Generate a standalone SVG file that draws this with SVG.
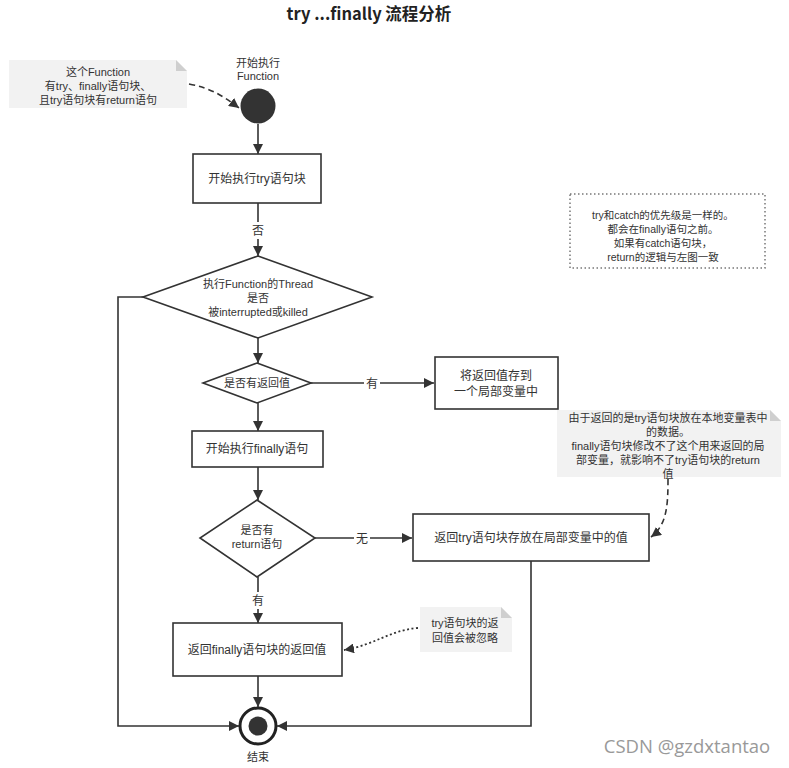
<svg xmlns="http://www.w3.org/2000/svg" width="789" height="768" viewBox="0 0 789 768">
<defs>
<style>
text{font-family:"Liberation Sans","Noto Sans CJK SC",sans-serif;fill:#333;text-anchor:middle}
.t12{font-size:12px}
.t11{font-size:11px}
.t10{font-size:10.5px}
.box{fill:#fff;stroke:#333;stroke-width:1.6}
.ln{fill:none;stroke:#333;stroke-width:1.6}
.dash{fill:none;stroke:#333;stroke-width:1.6;stroke-dasharray:6 4}
.dot{fill:none;stroke:#333;stroke-width:1.8;stroke-dasharray:2 2.5}
.note{fill:#f2f2f2}
.fold{fill:#cfcfcf}
.lbl{fill:#fff}
</style>
<marker id="ah" viewBox="0 0 10 10" refX="10" refY="5" markerWidth="10" markerHeight="10" markerUnits="userSpaceOnUse" orient="auto">
<path d="M0,0 L10,5 L0,10 z" fill="#333"/>
</marker>
</defs>
<rect width="789" height="768" fill="#fff"/>
<text x="369" y="20" style="font-family:'Noto Sans CJK SC',sans-serif;font-size:16.5px;font-weight:bold;fill:#222">try ...finally 流程分析</text>

<g id="connectors">
<path class="ln" d="M258,124 L258,154" marker-end="url(#ah)"/>
<path class="ln" d="M258,203 L258,256" marker-end="url(#ah)"/>
<path class="ln" d="M258,338 L258,363" marker-end="url(#ah)"/>
<path class="ln" d="M143,297 L118,297 L118,726 L239,726" marker-end="url(#ah)"/>
<path class="ln" d="M311,383 L434,383" marker-end="url(#ah)"/>
<path class="ln" d="M258,403 L258,431" marker-end="url(#ah)"/>
<path class="ln" d="M258,467 L258,500" marker-end="url(#ah)"/>
<path class="ln" d="M315,538 L412,538" marker-end="url(#ah)"/>
<path class="ln" d="M258,577 L258,623" marker-end="url(#ah)"/>
<path class="ln" d="M258,676 L258,707" marker-end="url(#ah)"/>
<path class="ln" d="M531,561 L531,726 L277,726" marker-end="url(#ah)"/>
<path class="dash" d="M189,84 C210,88 222,95 239,108" marker-end="url(#ah)"/>
<path class="dash" d="M668,479 C668,505 667,525 651,537" marker-end="url(#ah)"/>
<path class="dot" d="M418,628 C390,630 375,645 344,650" marker-end="url(#ah)"/>
<rect class="lbl" x="250" y="222" width="16" height="17"/>
<text class="t12" x="258" y="235">否</text>
<rect class="lbl" x="364" y="375" width="16" height="17"/>
<text class="t12" x="372" y="388">有</text>
<rect class="lbl" x="354" y="530" width="16" height="17"/>
<text class="t12" x="362" y="543">无</text>
<rect class="lbl" x="250" y="592" width="16" height="17"/>
<text class="t12" x="258" y="605">有</text>
</g>

<g id="note-function">
<path class="note" d="M9,60 L176,60 L187,71 L187,108 L9,108 z"/>
<path class="fold" d="M176,60 L187,71 L176,71 z"/>
<text class="t11" x="98" y="76">这个Function</text>
<text class="t11" x="98" y="90">有try、finally语句块、</text>
<text class="t11" x="98" y="104">且try语句块有return语句</text>
</g>

<g id="start">
<text class="t11" x="258" y="67">开始执行</text>
<text class="t11" x="258" y="80">Function</text>
<circle cx="258" cy="106" r="17.5" fill="#333"/>
</g>

<g id="try-block">
<rect class="box" x="193" y="154" width="128" height="49"/>
<text class="t12" x="257" y="183">开始执行try语句块</text>
</g>

<g id="thread-check">
<path class="box" d="M258,256 L372,297 L258,338 L143,297 z"/>
<text class="t11" x="258" y="288">执行Function的Thread</text>
<text class="t11" x="258" y="302">是否</text>
<text class="t11" x="258" y="316">被interrupted或killed</text>
</g>

<g id="has-return-value">
<path class="box" d="M257,363 L311,383 L257,403 L203,383 z"/>
<text class="t11" x="257" y="387">是否有返回值</text>
</g>

<g id="store-local">
<rect class="box" x="435" y="357" width="123" height="52"/>
<text class="t12" x="496" y="380">将返回值存到</text>
<text class="t12" x="496" y="396">一个局部变量中</text>
</g>

<g id="finally-start">
<rect class="box" x="192" y="431" width="131" height="36"/>
<text class="t12" x="257" y="453">开始执行finally语句</text>
</g>

<g id="has-return">
<path class="box" d="M257,500 L315,538 L257,577 L200,538 z"/>
<text class="t11" x="257" y="534">是否有</text>
<text class="t11" x="257" y="548">return语句</text>
</g>

<g id="return-try-value">
<rect class="box" x="413" y="514" width="236" height="47"/>
<text class="t12" x="531" y="542">返回try语句块存放在局部变量中的值</text>
</g>

<g id="return-finally-value">
<rect class="box" x="173" y="623" width="169" height="53"/>
<text class="t12" x="257" y="654">返回finally语句块的返回值</text>
</g>

<g id="end">
<circle cx="258" cy="726" r="18" fill="#fff" stroke="#222" stroke-width="3"/>
<circle cx="258" cy="726" r="9.5" fill="#333"/>
<text class="t11" x="258" y="761">结束</text>
</g>

<g id="note-priority">
<rect x="570" y="194" width="195" height="74" fill="none" stroke="#777" stroke-width="1.5" stroke-dasharray="1.5 2.5"/>
<text class="t10" x="663" y="219">try和catch的优先级是一样的。</text>
<text class="t10" x="663" y="233">都会在finally语句之前。</text>
<text class="t10" x="663" y="247">如果有catch语句块，</text>
<text class="t10" x="663" y="261">return的逻辑与左图一致</text>
</g>

<g id="note-local-var">
<path class="note" d="M557,410 L770,410 L781,421 L781,477 L557,477 z"/>
<path class="fold" d="M770,410 L781,421 L770,421 z"/>
<text class="t11" x="668" y="422">由于返回的是try语句块放在本地变量表中</text>
<text class="t11" x="668" y="436">的数据。</text>
<text class="t11" x="668" y="450">finally语句块修改不了这个用来返回的局</text>
<text class="t11" x="668" y="464">部变量，就影响不了try语句块的return</text>
<text class="t11" x="668" y="478">值</text>
</g>

<g id="note-ignored">
<path class="note" d="M420,607 L501,607 L512,618 L512,652 L420,652 z"/>
<path class="fold" d="M501,607 L512,618 L501,618 z"/>
<text class="t11" x="465" y="627">try语句块的返</text>
<text class="t11" x="465" y="642">回值会被忽略</text>
</g>

<text x="687" y="753" style="font-family:'Open Sans','Noto Sans',sans-serif;font-size:18.5px;fill:#999;text-anchor:middle">CSDN @gzdxtantao</text>
</svg>
